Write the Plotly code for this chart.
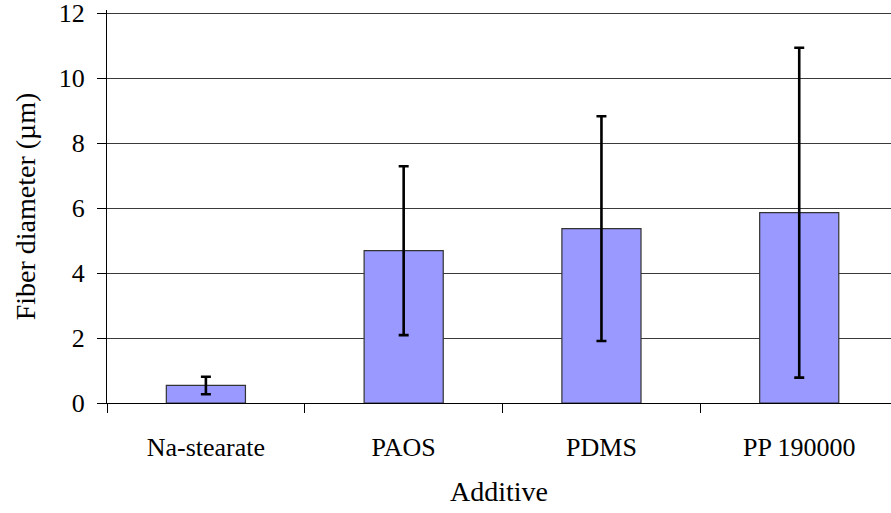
import plotly.graph_objects as go

additives = ["Na-stearate", "PAOS", "PDMS", "PP 190000"]
mean_diameter = [0.54, 4.69, 5.37, 5.86]
std_diameter = [0.27, 2.60, 3.46, 5.08]
y_ticks = [0, 2, 4, 6, 8, 10, 12]

FONT = "Liberation Serif"

fig = go.Figure()
fig.add_trace(go.Bar(
    x=additives,
    y=mean_diameter,
    width=0.4,
    marker=dict(color="#9999FF", line=dict(color="#333333", width=1.2)),
    error_y=dict(type="data", array=std_diameter, visible=True,
                 color="black", thickness=2.6, width=5),
))

fig.update_layout(
    width=891, height=513,
    margin=dict(l=107, r=0, t=10, b=110),
    paper_bgcolor="white", plot_bgcolor="white",
    showlegend=False,
    font=dict(family=FONT, color="black", size=26),
)
fig.update_xaxes(
    type="category",
    range=[-0.5, 3.464],
    tickson="boundaries",
    ticks="outside", ticklen=9, tickcolor="black", tickwidth=1,
    showline=True, linecolor="black", linewidth=1.2,
    showgrid=False,
    tickfont=dict(family=FONT, size=26, color="black"),
    ticklabelstandoff=21,
    title=dict(text="Additive", font=dict(family=FONT, size=28, color="black"), standoff=20),
)
fig.update_yaxes(
    range=[0, 12.1],
    tickvals=y_ticks,
    ticktext=[str(v) for v in y_ticks],
    ticks="outside", ticklen=9, tickcolor="black", tickwidth=1,
    showline=True, linecolor="black", linewidth=1.2,
    showgrid=True, gridcolor="#3a3a3a", gridwidth=1,
    zeroline=False,
    ticklabeloverflow="allow",
    tickfont=dict(family=FONT, size=26, color="black"),
    ticklabelstandoff=7,
    title=dict(text="Fiber diameter (µm)", font=dict(family=FONT, size=28, color="black"), standoff=14),
)

fig.write_html("out.html")
